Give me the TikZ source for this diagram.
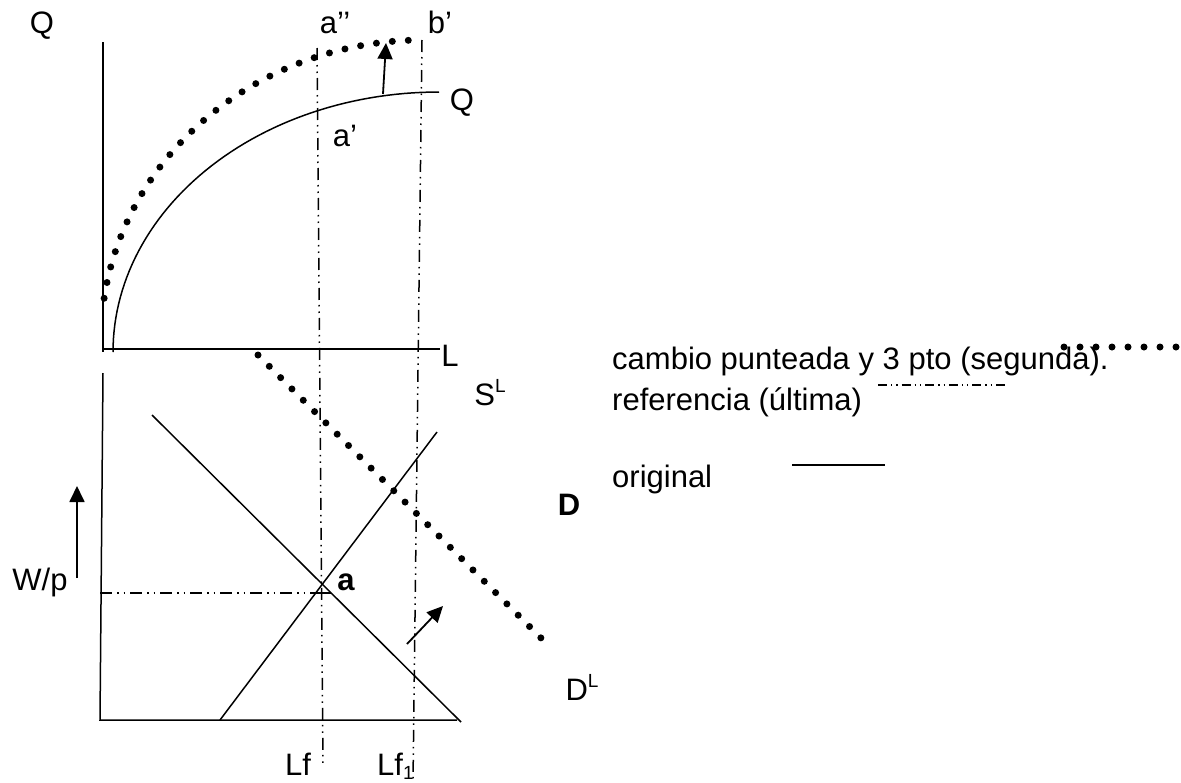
\documentclass[tikz,border=0pt]{standalone}
\usepackage{fontspec}
\setmainfont{Liberation Sans}
\usetikzlibrary{arrows.meta}
\newcommand{\mysup}[1]{\raisebox{13pt}{\fontsize{19}{20}\selectfont #1}}
\newcommand{\mysub}[1]{\raisebox{-4pt}{\fontsize{19}{20}\selectfont #1}}
\begin{document}
\begin{tikzpicture}[x=1pt,y=-1pt,
  lbl/.style={inner sep=0pt, font=\fontsize{31}{37}\selectfont, anchor=base},
  lblw/.style={lbl, anchor=base west},
  axisline/.style={line width=1.5pt},
  curveline/.style={line width=1.5pt},
  refline/.style={line width=1.5pt, dash pattern=on 12pt off 5pt on 1.5pt off 5pt on 1.5pt off 5pt},
  smallref/.style={line width=1.3pt, dash pattern=on 9pt off 4pt on 1.3pt off 4pt on 1.3pt off 4pt},
  bigdots/.style={line width=7pt, line cap=round, dash pattern=on 0pt off 16pt},
  arr/.style={line width=1.8pt, -{Triangle[length=16pt,width=15pt]}}
]
\useasboundingbox (0,0) rectangle (1181,782);

% ---------- top panel ----------
\coordinate (qtop) at (103,42);
\coordinate (qorig) at (103,352);
\coordinate (lend) at (440,349);
\draw[axisline] (qtop) -- (qorig);
\draw[axisline] (103,349) -- (lend);

% original Q curve
\draw[curveline] plot[domain=0:90, samples=60] ({439-326*cos(\x)}, {352-260*sin(\x)});
% shifted dotted Q curve
\draw[bigdots] plot[domain=8:90, samples=80] ({423-322*cos(\x)}, {340-300*sin(\x)});

% up arrow (shift)
\coordinate (ua1) at (383,94);
\coordinate (ua2) at (386,43);
\draw[arr] (ua1) -- (ua2);

% reference vertical lines
\coordinate (r1t) at (317,48);
\coordinate (r1b) at (323,764);
\coordinate (r2t) at (422,40);
\coordinate (r2b) at (413,782);
\draw[refline] (r1t) -- (r1b);
\draw[refline] (r2t) -- (r2b);

% labels top
\node[lbl] (lQ) at (42,33) {Q};
\node[lbl] (la2) at (335,33) {a’’};
\node[lbl] (lb) at (440,33) {b’};
\node[lbl] (lQr) at (462,110) {Q};
\node[lbl] (la1) at (345,146) {a’};
\node[lbl] (lL) at (450,366) {L};

% ---------- bottom panel ----------
\coordinate (wtop) at (103,373);
\coordinate (worig) at (100,720);
\coordinate (lend2) at (457,720);
\draw[axisline] (wtop) -- (worig) -- (lend2);

% demand (original) and supply
\coordinate (d1) at (152,415);
\coordinate (d2) at (461,722);
\coordinate (s1) at (220,720);
\coordinate (s2) at (437,432);
\draw[curveline] (d1) -- (d2);
\draw[curveline] (s1) -- (s2);

% shifted demand (dotted)
\coordinate (dl1) at (258,355);
\coordinate (dl2) at (541,638);
\draw[bigdots] (dl1) -- (dl2);

% W/p reference
\coordinate (wp0) at (100,593);
\coordinate (wp1) at (316,593);
\coordinate (wp2) at (331,593);
\draw[refline] (wp0) -- (wp1);
\draw[curveline] (wp1) -- (wp2);

% arrows
\coordinate (la) at (77,578);
\coordinate (lb2) at (77,486);
\draw[arr] (la) -- (lb2);
\coordinate (da1) at (407,644);
\coordinate (da2) at (443,606);
\draw[arr] (da1) -- (da2);

% labels bottom
\node[lbl] (lSL) at (490,405) {S\mysup{L}};
\node[lbl, font=\fontsize{31}{37}\selectfont\bfseries] (lD) at (569,515) {D};
\node[lbl, font=\fontsize{31}{37}\selectfont\bfseries] (lal) at (346,590) {a};
\node[lbl] (lW) at (40,590) {W/p};
\node[lbl] (lDL) at (582,700) {D\mysup{L}};
\node[lbl] (lLf) at (298,775) {Lf};
\node[lblw] (lLf1) at (377,775) {Lf\mysub{1}};

% ---------- legend ----------
\node[lblw] (t1) at (612,369) {cambio punteada y 3 pto (segunda).};
\node[lblw] (t2) at (612,410) {referencia (última)};
\node[lblw] (t3) at (612,487) {original};
\coordinate (g1a) at (1064,347);
\coordinate (g1b) at (1180,347);
\draw[bigdots] (g1a) -- (g1b);
\coordinate (g2a) at (878,385);
\coordinate (g2b) at (1006,385);
\draw[smallref] (g2a) -- (g2b);
\coordinate (g3a) at (792,465);
\coordinate (g3b) at (885,465);
\draw[curveline] (g3a) -- (g3b);
\end{tikzpicture}
\end{document}
